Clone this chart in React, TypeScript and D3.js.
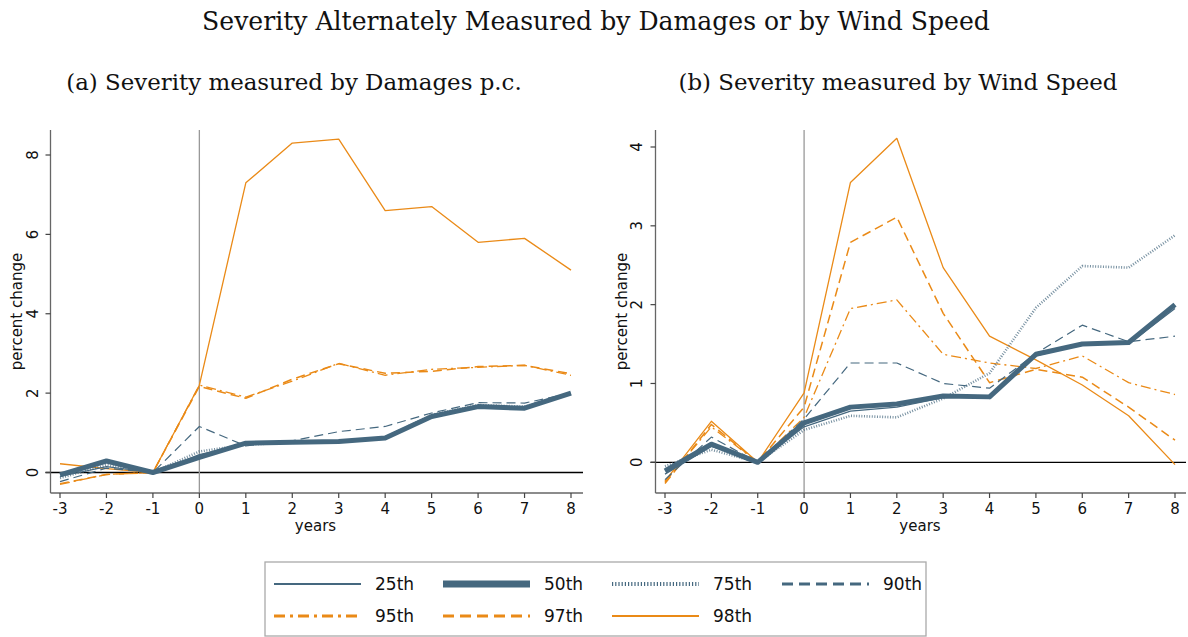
import React from "react";
import * as d3 from "d3";

const years = [-3, -2, -1, 0, 1, 2, 3, 4, 5, 6, 7, 8];

// Panel (a): severity measured by damages p.c.
const dmg25 = [-0.1, 0.15, 0, 0.45, 0.72, 0.77, 0.8, 0.9, 1.45, 1.68, 1.65, 1.98];
const dmg50 = [-0.06, 0.29, 0, 0.38, 0.74, 0.76, 0.78, 0.87, 1.41, 1.66, 1.62, 2.0];
const dmg75 = [-0.14, 0.19, 0, 0.53, 0.7, 0.76, 0.79, 0.88, 1.45, 1.7, 1.66, 2.0];
const dmg90 = [-0.23, 0.11, 0, 1.16, 0.67, 0.8, 1.03, 1.16, 1.5, 1.76, 1.75, 2.0];
const dmg95 = [-0.3, -0.05, 0, 2.2, 1.9, 2.3, 2.75, 2.45, 2.6, 2.65, 2.7, 2.45];
const dmg97 = [-0.28, -0.05, 0, 2.17, 1.87, 2.35, 2.74, 2.5, 2.55, 2.67, 2.7, 2.49];
const dmg98 = [0.22, 0.1, 0, 2.2, 7.3, 8.3, 8.4, 6.6, 6.7, 5.8, 5.9, 5.1];

// Panel (b): severity measured by wind speed
const wnd25 = [-0.15, 0.2, 0, 0.45, 0.65, 0.7, 0.82, 0.85, 1.35, 1.5, 1.5, 1.95];
const wnd50 = [-0.11, 0.23, 0, 0.5, 0.7, 0.74, 0.84, 0.83, 1.37, 1.5, 1.52, 2.0];
const wnd75 = [-0.05, 0.16, 0, 0.41, 0.59, 0.57, 0.81, 1.13, 1.96, 2.49, 2.47, 2.88];
const wnd90 = [-0.22, 0.32, 0, 0.55, 1.26, 1.26, 1.0, 0.94, 1.38, 1.74, 1.53, 1.6];
const wnd95 = [-0.25, 0.45, 0, 0.57, 1.95, 2.06, 1.37, 1.26, 1.19, 1.35, 1.01, 0.86];
const wnd97 = [-0.27, 0.48, 0, 0.7, 2.79, 3.11, 1.89, 1.01, 1.18, 1.08, 0.7, 0.28];
const wnd98 = [-0.24, 0.52, 0, 0.88, 3.55, 4.11, 2.47, 1.6, 1.3, 0.98, 0.59, -0.03];

const xTicks = years;
const yTicksA = [0, 2, 4, 6, 8];
const yTicksB = [0, 1, 2, 3, 4];

const seriesNames = ["25th", "50th", "75th", "90th", "95th", "97th", "98th"];

const BLUE = "#45687f";
const ORANGE = "#ea8a17";

type Style = { color: string; width: number; dash?: string; lw: number; ldash?: string };
const styles: Style[] = [
  { color: BLUE, width: 1.2, lw: 2 },
  { color: BLUE, width: 5, lw: 7 },
  { color: BLUE, width: 2.6, dash: "1,1.6", lw: 4, ldash: "1.2,2" },
  { color: BLUE, width: 1.2, dash: "9,5", lw: 3, ldash: "11,6" },
  { color: ORANGE, width: 1.3, dash: "10,4,2,4", lw: 3, ldash: "11,5,3,5" },
  { color: ORANGE, width: 1.5, dash: "9,5", lw: 3, ldash: "11,6" },
  { color: ORANGE, width: 1.3, lw: 2 },
];

const SANS = "'DejaVu Sans', Verdana, sans-serif";
const SERIF = "'DejaVu Serif', serif";

type PanelProps = {
  data: number[][];
  x0: number; x1: number; axisX: number; xEnd: number;
  yZeroPx: number; yTopVal: number; yTopPx: number;
  yTicks: number[];
  title: string; titleX: number;
  ylabX: number; tickLabX: number;
};

function Panel(p: PanelProps) {
  const x = d3.scaleLinear().domain([-3, 8]).range([p.x0, p.x1]);
  const y = d3.scaleLinear().domain([0, p.yTopVal]).range([p.yZeroPx, p.yTopPx]);
  const axisY = 493;
  const topY = 130;
  const line = d3
    .line<number>()
    .x((_, i) => x(years[i]))
    .y((v) => y(v));
  const order = [6, 5, 4, 3, 2, 0, 1];
  const midY = (topY + axisY) / 2;
  return (
    <g>
      <text x={p.titleX} y={90} textAnchor="middle" fontFamily={SERIF} fontSize={22.9} fill="#111">
        {p.title}
      </text>
      {/* zero line */}
      <line x1={p.axisX - 5} x2={p.xEnd} y1={y(0)} y2={y(0)} stroke="#000" strokeWidth={1.3} />
      {/* vertical event line */}
      <line x1={x(0)} x2={x(0)} y1={topY} y2={axisY} stroke="#999" strokeWidth={1.3} />
      {order.map((k) => (
        <path
          key={k}
          d={line(p.data[k]) || ""}
          fill="none"
          stroke={styles[k].color}
          strokeWidth={styles[k].width}
          strokeDasharray={styles[k].dash}
          strokeLinejoin="round"
          opacity={k === 2 ? 0.75 : 1}
        />
      ))}
      {/* axes */}
      <line x1={p.axisX} x2={p.axisX} y1={topY} y2={axisY} stroke="#666" strokeWidth={1.3} />
      <line x1={p.axisX} x2={p.xEnd} y1={axisY} y2={axisY} stroke="#666" strokeWidth={1.3} />
      {p.yTicks.map((t) => (
        <g key={"y" + t}>
          <line x1={p.axisX - 5} x2={p.axisX} y1={y(t)} y2={y(t)} stroke="#444" strokeWidth={1.2} />
          <text
            transform={`translate(${p.tickLabX},${y(t)}) rotate(-90)`}
            textAnchor="middle"
            dominantBaseline="central"
            fontFamily={SANS}
            fontSize={15}
            fill="#111"
          >
            {t}
          </text>
        </g>
      ))}
      {xTicks.map((t) => (
        <g key={"x" + t}>
          <line x1={x(t)} x2={x(t)} y1={axisY} y2={axisY + 5} stroke="#444" strokeWidth={1.2} />
          <text x={x(t)} y={514} textAnchor="middle" fontFamily={SANS} fontSize={15} fill="#111">
            {t}
          </text>
        </g>
      ))}
      <text x={(p.x0 + p.x1) / 2} y={531} textAnchor="middle" fontFamily={SANS} fontSize={15} fill="#111">
        years
      </text>
      <text
        transform={`translate(${p.ylabX},${midY}) rotate(-90)`}
        textAnchor="middle"
        fontFamily={SANS}
        fontSize={15}
        fill="#111"
      >
        percent change
      </text>
    </g>
  );
}

export default function App() {
  const dataA = [dmg25, dmg50, dmg75, dmg90, dmg95, dmg97, dmg98];
  const dataB = [wnd25, wnd50, wnd75, wnd90, wnd95, wnd97, wnd98];
  const legendCols = [274, 443, 612, 782];
  const legendRows = [584, 616];
  return (
    <svg
      width={1188}
      height={637}
      style={{ position: "absolute", left: 0, top: 0, background: "#fff" }}
    >
      <rect x={0} y={0} width={1188} height={637} fill="#fff" />
      <text x={596} y={30} textAnchor="middle" fontFamily={SERIF} fontSize={25.1} fill="#111">
        Severity Alternately Measured by Damages or by Wind Speed
      </text>
      <Panel
        data={dataA}
        x0={60}
        x1={571}
        axisX={50.5}
        xEnd={583}
        yZeroPx={472.5}
        yTopVal={8}
        yTopPx={155}
        yTicks={yTicksA}
        title="(a) Severity measured by Damages p.c."
        titleX={294}
        ylabX={22}
        tickLabX={33}
      />
      <Panel
        data={dataB}
        x0={665}
        x1={1175}
        axisX={655.5}
        xEnd={1186}
        yZeroPx={462.3}
        yTopVal={4}
        yTopPx={147}
        yTicks={yTicksB}
        title="(b) Severity measured by Wind Speed"
        titleX={898}
        ylabX={627}
        tickLabX={637}
      />
      {/* legend */}
      <rect x={265} y={562} width={661} height={74} fill="#fff" stroke="#aaa" strokeWidth={1.3} />
      {seriesNames.map((name, i) => {
        const col = legendCols[i % 4];
        const row = legendRows[Math.floor(i / 4)];
        const s = styles[i];
        return (
          <g key={name}>
            <line
              x1={col}
              x2={col + 87}
              y1={row}
              y2={row}
              stroke={s.color}
              strokeWidth={s.lw}
              strokeDasharray={s.ldash}
            />
            <text x={col + 101} y={row} dominantBaseline="central" fontFamily={SANS} fontSize={17} fill="#111">
              {name}
            </text>
          </g>
        );
      })}
    </svg>
  );
}
